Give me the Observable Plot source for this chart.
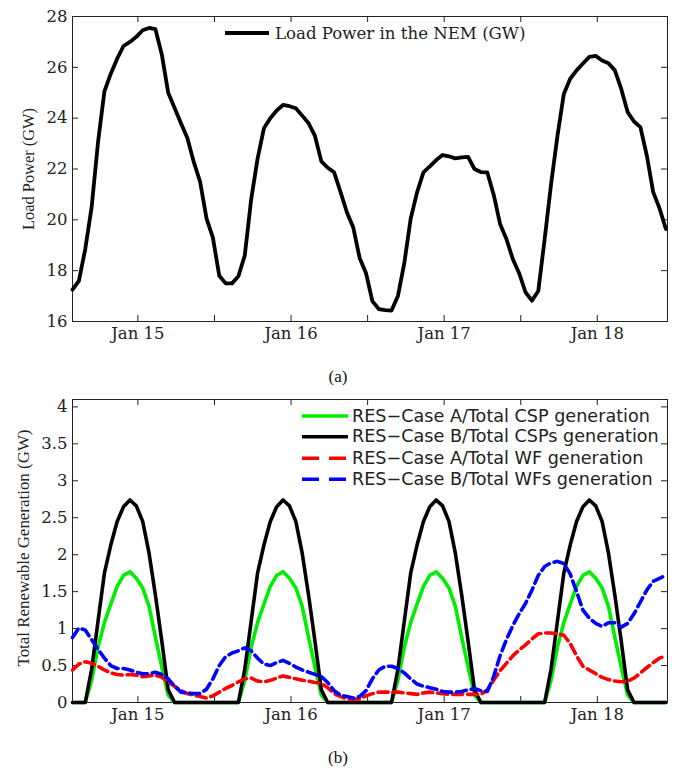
<!DOCTYPE html>
<html><head><meta charset="utf-8">
<script src="https://cdn.jsdelivr.net/npm/d3@7"></script>
<script src="https://cdn.jsdelivr.net/npm/@observablehq/plot@0.6"></script>
<style>
body{margin:0;background:#fff;}
#wrap{position:relative;width:676px;height:768px;overflow:hidden;background:#fff;}
.chart{position:absolute;left:0;}
.cap{position:absolute;left:0;width:676px;text-align:center;font-family:"Liberation Serif";font-size:17px;line-height:22px;color:#111;}
</style></head><body><div id="wrap"></div>
<script>
// ---------- DATA ----------
// hourly samples starting Jan 14 13:45
const startTime = Date.UTC(2014, 0, 14, 13, 45);
const endTime = Date.UTC(2014, 0, 18, 11, 0);
const dayTickDates = [15, 16, 17, 18];          // labelled "Jan dd"
const halfDayTickDates = [15.5, 16.5, 17.5];     // unlabelled noon ticks
const loadTicks = [16, 18, 20, 22, 24, 26, 28];
const genTicks = [0, 0.5, 1, 1.5, 2, 2.5, 3, 3.5, 4];

const loadPower = [
  17.25, 17.6, 18.85, 20.5, 23.05, 25.05, 25.75, 26.34, 26.84, 27.0,
  27.2, 27.46, 27.55, 27.5, 26.5, 25.0, 24.4, 23.8, 23.22, 22.28,
  21.5, 20.06, 19.3, 17.8, 17.5, 17.5, 17.78, 18.6, 20.8, 22.4,
  23.6, 24.0, 24.3, 24.52, 24.47, 24.39, 24.1, 23.8, 23.3, 22.3,
  22.05, 21.87, 21.1, 20.3, 19.7, 18.5, 17.9, 16.8, 16.49, 16.45,
  16.43, 17.0, 18.3, 20.04, 21.08, 21.87, 22.1, 22.35, 22.55, 22.5,
  22.42, 22.46, 22.48, 22.0, 21.88, 21.87, 21.0, 19.85, 19.25, 18.46,
  17.9, 17.15, 16.82, 17.2, 19.25, 21.4, 23.3, 24.95, 25.55, 25.88,
  26.15, 26.41, 26.45, 26.27, 26.16, 25.88, 25.15, 24.24, 23.87, 23.65,
  22.54, 21.1, 20.45, 19.64
];

const cspCaseA = [
  0, 0, 0, 0.3, 0.75, 1.08, 1.33, 1.57, 1.72, 1.77, 1.68, 1.55, 1.3, 0.88, 0.48, 0.1, 0,
  0, 0, 0, 0, 0, 0, 0, 0, 0,
  0, 0.3, 0.75, 1.08, 1.33, 1.57, 1.72, 1.77, 1.68, 1.55, 1.3, 0.88, 0.48, 0.1, 0,
  0, 0, 0, 0, 0, 0, 0, 0, 0,
  0, 0.3, 0.75, 1.08, 1.33, 1.57, 1.72, 1.77, 1.68, 1.55, 1.3, 0.88, 0.48, 0.1, 0,
  0, 0, 0, 0, 0, 0, 0, 0, 0,
  0, 0.3, 0.75, 1.08, 1.33, 1.57, 1.72, 1.77, 1.68, 1.55, 1.3, 0.88, 0.48, 0.1, 0,
  0, 0, 0, 0, 0
];

const cspCaseB = [
  0, 0, 0, 0.45, 1.1, 1.75, 2.13, 2.45, 2.65, 2.74, 2.66, 2.45, 2.02, 1.45, 0.83, 0.17, 0,
  0, 0, 0, 0, 0, 0, 0, 0, 0,
  0, 0.45, 1.1, 1.75, 2.13, 2.45, 2.65, 2.74, 2.66, 2.45, 2.02, 1.45, 0.83, 0.17, 0,
  0, 0, 0, 0, 0, 0, 0, 0, 0,
  0, 0.45, 1.1, 1.75, 2.13, 2.45, 2.65, 2.74, 2.66, 2.45, 2.02, 1.45, 0.83, 0.17, 0,
  0, 0, 0, 0, 0, 0, 0, 0, 0,
  0, 0.45, 1.1, 1.75, 2.13, 2.45, 2.65, 2.74, 2.66, 2.45, 2.02, 1.45, 0.83, 0.17, 0,
  0, 0, 0, 0, 0
];

const wfCaseA = [
  0.44, 0.52, 0.55, 0.53, 0.49, 0.44, 0.4, 0.38, 0.37, 0.38,
  0.37, 0.35, 0.36, 0.37, 0.34, 0.28, 0.22, 0.16, 0.12, 0.1,
  0.08, 0.06, 0.09, 0.14, 0.19, 0.23, 0.28, 0.32, 0.33, 0.29,
  0.28, 0.3, 0.33, 0.36, 0.34, 0.32, 0.3, 0.29, 0.27, 0.26,
  0.2, 0.12, 0.08, 0.05, 0.04, 0.05, 0.09, 0.12, 0.14, 0.14,
  0.14, 0.14, 0.13, 0.12, 0.11, 0.13, 0.14, 0.13, 0.12, 0.11,
  0.11, 0.11, 0.11, 0.11, 0.11, 0.17, 0.3, 0.43, 0.53, 0.63,
  0.71, 0.78, 0.86, 0.93, 0.94, 0.94, 0.93, 0.91, 0.8, 0.63,
  0.49, 0.44, 0.39, 0.34, 0.31, 0.29, 0.28, 0.29, 0.33, 0.4,
  0.47, 0.54, 0.6, 0.63
];

const wfCaseB = [
  0.88, 1.01, 0.98, 0.85, 0.72, 0.6, 0.5, 0.46, 0.46, 0.44,
  0.41, 0.39, 0.39, 0.41, 0.38, 0.32, 0.22, 0.14, 0.13, 0.12,
  0.12, 0.18, 0.32, 0.5, 0.62, 0.67, 0.7, 0.74, 0.7, 0.6,
  0.52, 0.5, 0.54, 0.57, 0.53, 0.48, 0.44, 0.41, 0.38, 0.35,
  0.27, 0.16, 0.1, 0.08, 0.06, 0.08, 0.16, 0.32, 0.44, 0.49,
  0.49, 0.46, 0.4, 0.32, 0.25, 0.22, 0.2, 0.18, 0.15, 0.14,
  0.14, 0.15, 0.17, 0.19, 0.16, 0.15, 0.35, 0.63, 0.85, 1.04,
  1.2, 1.34, 1.52, 1.72, 1.84, 1.89, 1.91, 1.88, 1.74, 1.5,
  1.25, 1.14, 1.07, 1.03, 1.08, 1.08, 1.02, 1.07, 1.2, 1.36,
  1.52, 1.64, 1.68, 1.72
];

const seriesNames = [
  "RES\u2212Case A/Total CSP generation",
  "RES\u2212Case B/Total CSPs generation",
  "RES\u2212Case A/Total WF generation",
  "RES\u2212Case B/Total WFs generation"
];
const seriesColors = ["#00ee00", "#000000", "#ff0000", "#0000ff"];
const seriesDash = [null, null, "10,5", "10,5"];

// ---------- BUILD ----------
const HOUR = 3600e3;
const dayMs = d => new Date(Date.UTC(2014, 0, Math.floor(d), (d % 1) * 24));
const majorTicks = dayTickDates.map(dayMs);
const allTicks = [...dayTickDates, ...halfDayTickDates].sort((a, b) => a - b).map(dayMs);
const xDomain = [new Date(startTime), new Date(endTime)];
const timeAt = i => new Date(startTime + i * HOUR);
const fmtDay = d => "Jan " + d.getUTCDate();
const frameColor = "#222";
const wrap = document.getElementById("wrap");
const tickFont = {fontFamily: "DejaVu Serif", fontSize: "16.5px", color: "#222", background: "white", overflow: "visible"};

// ---- (a) Load power ----
const loadData = loadPower.map((v, i) => ({t: timeAt(i), v}));
const H1 = 350, MT1 = 16, MB1 = 29, ML = 72, MR = 9;
const ph1 = H1 - MT1 - MB1, pw = 676 - ML - MR;
const chartA = Plot.plot({
  width: 676, height: H1,
  marginTop: MT1, marginBottom: MB1, marginLeft: ML, marginRight: MR,
  style: tickFont,
  x: {type: "utc", domain: xDomain},
  y: {domain: [16, 28]},
  marks: [
    Plot.axisX({ticks: majorTicks, tickSize: 0, tickPadding: 6, tickFormat: fmtDay, label: null}),
    Plot.axisY({ticks: loadTicks, tickSize: 0, tickPadding: 5, label: null}),
    Plot.tickX(allTicks, {x: d => d, insetTop: ph1 - 6, stroke: frameColor}),
    Plot.tickX(allTicks, {x: d => d, insetBottom: ph1 - 6, stroke: frameColor}),
    Plot.tickY(loadTicks, {y: d => d, insetRight: pw - 6, stroke: frameColor}),
    Plot.tickY(loadTicks, {y: d => d, insetLeft: pw - 6, stroke: frameColor}),
    Plot.frame({stroke: frameColor}),
    Plot.line(loadData, {x: "t", y: "v", stroke: "black", strokeWidth: 3.8, strokeLinejoin: "round"})
  ]
});
chartA.classList.add("chart");
chartA.style.top = "0px";
wrap.appendChild(chartA);
{
  const s = d3.select(chartA);
  s.append("line").attr("x1", 225).attr("x2", 269).attr("y1", 33).attr("y2", 33)
    .attr("stroke", "black").attr("stroke-width", 3.8);
  s.append("text").attr("x", 275).attr("y", 39).attr("text-anchor", "start")
    .attr("font-family", "DejaVu Serif").attr("font-size", 16.6).attr("fill", "#222")
    .text("Load Power in the NEM (GW)");
  s.append("text").attr("transform", "translate(34,169) rotate(-90)")
    .attr("text-anchor", "middle").attr("font-family", "Liberation Serif").attr("font-size", 17)
    .attr("fill", "#222").attr("textLength", 122).attr("lengthAdjust", "spacingAndGlyphs")
    .text("Load Power (GW)");
}

// ---- (b) Renewable generation ----
const seriesValues = [cspCaseA, cspCaseB, wfCaseA, wfCaseB];
const H2 = 340, MT2 = 9, MB2 = 28;
const ph2 = H2 - MT2 - MB2;
const chartB = Plot.plot({
  width: 676, height: H2,
  marginTop: MT2, marginBottom: MB2, marginLeft: ML, marginRight: MR,
  style: tickFont,
  x: {type: "utc", domain: xDomain},
  y: {domain: [0, 4.1]},
  marks: [
    Plot.axisX({ticks: majorTicks, tickSize: 0, tickPadding: 6, tickFormat: fmtDay, label: null}),
    Plot.axisY({ticks: genTicks, tickSize: 0, tickPadding: 5, tickFormat: d => String(d), label: null}),
    Plot.tickX(allTicks, {x: d => d, insetTop: ph2 - 6, stroke: frameColor}),
    Plot.tickX(allTicks, {x: d => d, insetBottom: ph2 - 6, stroke: frameColor}),
    Plot.tickY(genTicks, {y: d => d, insetRight: pw - 6, stroke: frameColor}),
    Plot.tickY(genTicks, {y: d => d, insetLeft: pw - 6, stroke: frameColor}),
    Plot.frame({stroke: frameColor}),
    ...seriesValues.map((vals, k) =>
      Plot.line(vals.map((v, i) => ({t: timeAt(i), v})), {
        x: "t", y: "v", stroke: seriesColors[k], strokeWidth: 3.6,
        strokeLinejoin: "round", strokeDasharray: seriesDash[k] || undefined
      }))
  ]
});
chartB.classList.add("chart");
chartB.style.top = "390px";
wrap.appendChild(chartB);
{
  const s = d3.select(chartB);
  const rowY = [26, 46.7, 68.3, 89.3];
  seriesNames.forEach((name, k) => {
    const ln = s.append("line").attr("x1", 302).attr("x2", 348).attr("y1", rowY[k]).attr("y2", rowY[k])
      .attr("stroke", seriesColors[k]).attr("stroke-width", 3.6);
    if (seriesDash[k]) ln.attr("stroke-dasharray", "17,10");
    s.append("text").attr("x", 352).attr("y", rowY[k] + 5.7).attr("text-anchor", "start")
      .attr("font-family", "DejaVu Sans").attr("font-size", 17.6).attr("fill", "#222").text(name);
  });
  s.append("text").attr("transform", "translate(29,158) rotate(-90)")
    .attr("text-anchor", "middle").attr("font-family", "Liberation Serif").attr("font-size", 17)
    .attr("fill", "#222").attr("textLength", 237).attr("lengthAdjust", "spacingAndGlyphs")
    .text("Total Renewable Generation (GW)");
}

// captions
const capA = document.createElement("div");
capA.className = "cap"; capA.style.top = "366px"; capA.textContent = "(a)";
wrap.appendChild(capA);
const capB = document.createElement("div");
capB.className = "cap"; capB.style.top = "747px"; capB.textContent = "(b)";
wrap.appendChild(capB);
</script>
</body></html>
